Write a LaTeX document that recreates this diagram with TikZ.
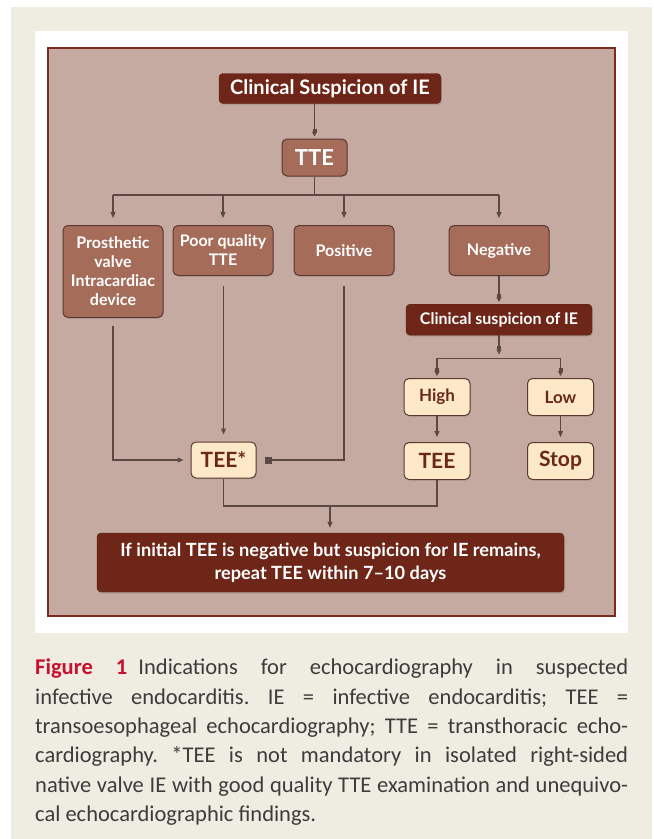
\documentclass[tikz,border=0pt]{standalone}
\usepackage{fontspec}
\setmainfont{Lato}
\newfontfamily\capfont{Carlito}
\usepackage{xcolor}
\usetikzlibrary{arrows.meta,positioning,shadows}
\frenchspacing
\definecolor{pagecol}{RGB}{239,236,226}
\definecolor{panelcol}{RGB}{197,170,161}
\definecolor{framecol}{RGB}{123,42,30}
\definecolor{darkcol}{RGB}{110,38,24}
\definecolor{midcol}{RGB}{166,108,90}
\definecolor{lightcol}{RGB}{253,232,200}
\definecolor{edgecol}{RGB}{90,56,46}
\definecolor{linecol}{RGB}{92,72,67}
\definecolor{txtcol}{RGB}{106,40,22}
\definecolor{figcol}{RGB}{200,16,46}
\definecolor{captxt}{RGB}{60,60,60}

\begin{document}
\begin{tikzpicture}[x=1pt, y=-1pt, >={Triangle[length=6pt,width=5pt]},
  darkbox/.style={draw=darkcol!85!black, fill=darkcol, text=white, rounded corners=4pt, align=center, inner sep=2pt, drop shadow={opacity=0.35,shadow xshift=1pt,shadow yshift=-1.5pt}},
  midbox/.style={draw=edgecol, line width=1pt, fill=midcol, text=white, rounded corners=5pt, align=center, inner sep=2pt, minimum width=100pt, minimum height=50pt, font=\bfseries\fontsize{16}{19}\selectfont, drop shadow={opacity=0.25,shadow xshift=1pt,shadow yshift=-1pt}},
  lightbox/.style={draw=edgecol, line width=1pt, fill=lightcol, text=txtcol, rounded corners=5pt, align=center, inner sep=2pt, minimum width=66pt, minimum height=37pt, font=\bfseries\fontsize{21}{24}\selectfont, drop shadow={opacity=0.25,shadow xshift=1pt,shadow yshift=-1pt}},
  link/.style={draw=linecol, line width=1.1pt},
  arr/.style={link, ->, shorten >=7pt},
  sqarr/.style={link, -{Square[length=3pt,width=4pt]Triangle[length=5pt,width=5pt]}, shorten >=2pt}]
\useasboundingbox (0,0) rectangle (654,839);
\fill[white] (0,0) rectangle (654,839);
\fill[pagecol] (11,7) rectangle (652,839);
\fill[white] (35,31) rectangle (628,633);
\draw[framecol, line width=2.5pt, fill=panelcol] (48,48) rectangle (615,616);

\node[darkbox, minimum width=222pt, minimum height=30pt, font=\bfseries\fontsize{20}{24}\selectfont] (susp) at (330,88.5) {Clinical Suspicion of IE};
\node[midbox, minimum width=65pt, minimum height=37pt, font=\bfseries\fontsize{22}{24}\selectfont] (tte) at (314.5,157.5) {TTE};
\coordinate (bus) at (314.5,195);
\node[midbox, minimum height=92pt, anchor=north] (prost) at (113,225) {Prosthetic\\valve\\Intracardiac\\device};
\node[midbox, anchor=north] (poor) at (223,225) {Poor quality\\TTE};
\node[midbox, anchor=north] (pos) at (344,225) {Positive};
\node[midbox, anchor=north] (neg) at (499,225) {Negative};
\node[darkbox, minimum width=186pt, minimum height=31pt, font=\bfseries\fontsize{16}{19}\selectfont, below=28pt of neg] (susp2) {Clinical suspicion of IE};
\coordinate[below=23pt of susp2] (split);
\node[lightbox, anchor=north, font=\bfseries\fontsize{17}{20}\selectfont] (high) at (437,378) {High};
\node[lightbox, anchor=north, font=\bfseries\fontsize{17}{20}\selectfont] (low) at (560.5,378) {Low};
\node[lightbox, below=26pt of high] (tee) {TEE};
\node[lightbox, below=26pt of low] (stop) {Stop};
\node[lightbox, minimum width=65pt, minimum height=36pt] (teestar) at (223.5,460) {TEE*};
\coordinate (join) at (330,506);
\node[darkbox, minimum width=467pt, minimum height=59pt, font=\bfseries\fontsize{18.2}{23}\selectfont] (final) at (330.5,562.5) {If initial TEE is negative but suspicion for IE remains,\\repeat TEE within 7--10 days};

\draw[sqarr] (tte.north |- susp.south) -- (tte.north);
\draw[link] (tte.south) -- (bus);
\draw[link] (prost.north |- bus) -- (neg.north |- bus);
\foreach \n in {prost,poor,pos,neg}
  \draw[arr] (\n.north |- bus) -- (\n.north);
\draw[sqarr] (neg) -- (susp2);
\draw[sqarr, shorten >=4pt] (susp2) -- (split);
\draw[link] (high.north |- split) -- (low.north |- split);
\draw[sqarr] (high.north |- split) -- (high.north);
\draw[sqarr] (low.north |- split) -- (low.north);
\draw[arr, shorten >=5pt] (high) -- (tee);
\draw[arr, shorten >=5pt] (low) -- (stop);
\draw[arr, shorten <=8pt] (prost.south) |- (teestar.west);
\draw[arr, shorten <=10pt] (teestar.north |- poor.south) -- (teestar.north);
\draw[link, -{Square[length=7pt,width=7pt]}, shorten <=10pt, shorten >=8pt] (pos.south) |- (teestar.east);
\draw[link] (teestar.south) |- (join) -| (tee.south);
\draw[arr, shorten >=5pt] (join) -- (join |- final.north);

\node[anchor=north west, text width=593pt, align=justify, inner sep=0pt, text=captxt, font=\capfont\fontsize{22.5}{29.3}\selectfont] (cap) at (35,659) {{\color{figcol}\bfseries Figure 1}\enspace Indications for echocardiography in suspected\linebreak infective endocarditis. IE = infective endocarditis; TEE =\linebreak transoesophageal echocardiography; TTE = transthoracic echo-\linebreak cardiography. *TEE is not mandatory in isolated right-sided\linebreak native valve IE with good quality TTE examination and unequivo-\linebreak cal echocardiographic findings.};
\end{tikzpicture}
\end{document}
